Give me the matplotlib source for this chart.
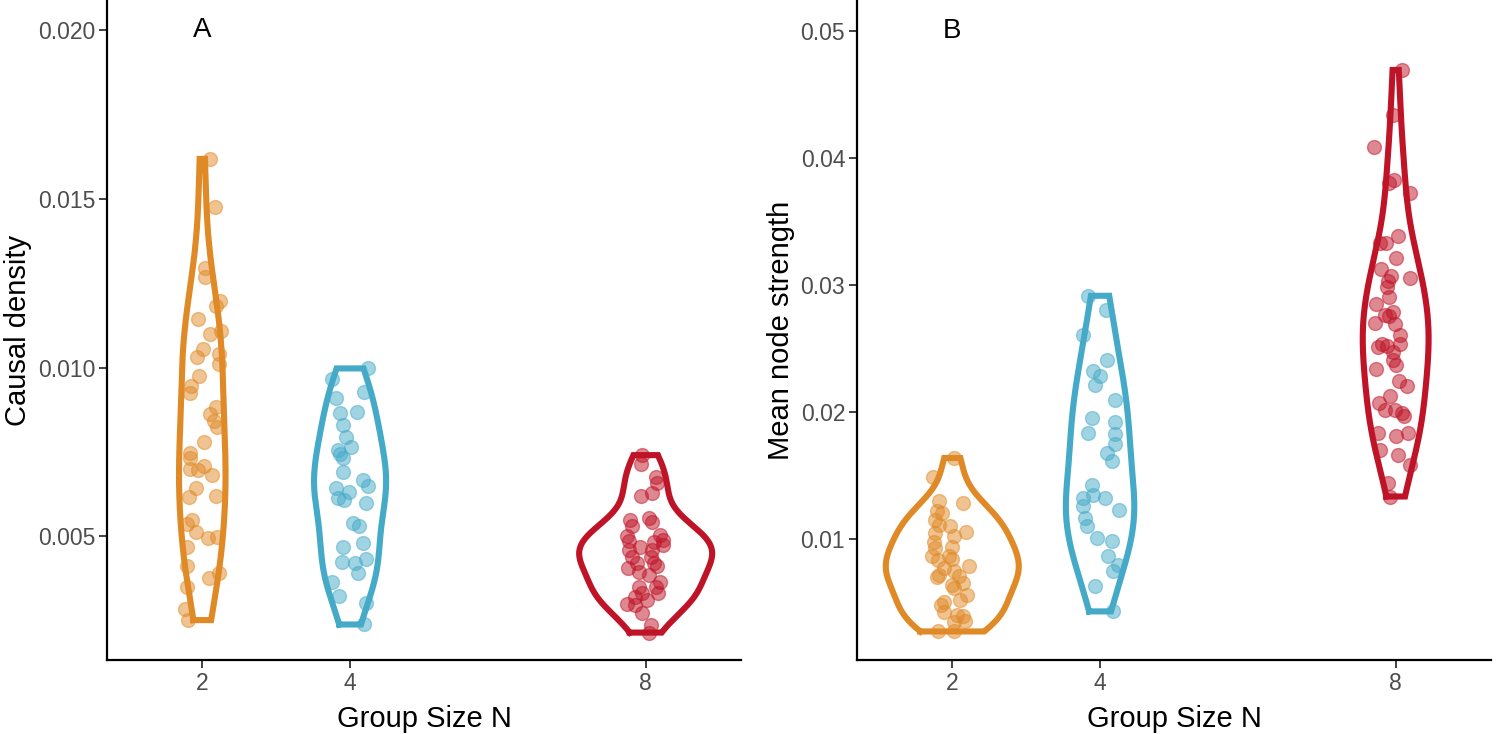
import numpy as np
import matplotlib
matplotlib.use("Agg")
import matplotlib.pyplot as plt

plt.rcParams["font.family"] = ["Liberation Sans", "DejaVu Sans"]

group_sizes = [2, 4, 8]
colors = ["#E08A27", "#45AAC8", "#BF1427"]

# Panel A: causal density (values x 1e-3), jitter offsets in x units
cd_n2 = [16.19, 14.75, 12.95, 12.70, 11.99, 11.84, 11.44, 11.00, 11.10, 10.55, 10.31,
         10.41, 10.11, 9.76, 9.47, 9.25, 8.84, 8.63, 8.43, 8.25, 7.79, 7.46, 7.31, 7.09,
         6.97, 6.99, 6.82, 6.44, 6.16, 6.20, 5.49, 5.37, 5.14, 4.94, 4.97, 4.69, 4.12,
         3.91, 3.76, 3.51, 2.84, 2.52]
cd_n2_jit = [0.10, 0.17, 0.04, 0.04, 0.24, 0.18, -0.06, 0.11, 0.26, 0.01, -0.07,
             0.23, 0.23, -0.04, -0.15, -0.16, 0.18, 0.10, 0.16, 0.20, 0.03, -0.16, -0.17, 0.03,
             -0.06, -0.17, 0.13, -0.09, -0.18, 0.18, -0.14, -0.21, -0.08, 0.08, 0.20, -0.21, -0.20,
             0.23, 0.09, -0.21, -0.23, -0.19]
cd_n4 = [9.98, 9.66, 9.27, 9.09, 8.65, 8.68, 8.30, 7.95, 7.64, 7.56, 7.44, 7.31, 6.92,
         6.67, 6.49, 6.44, 6.32, 6.13, 6.08, 6.00, 5.41, 5.32, 4.68, 4.81, 4.25, 4.20,
         4.32, 3.91, 3.66, 3.23, 3.02, 2.39]
cd_n4_jit = [0.24, -0.25, 0.19, -0.19, -0.13, 0.10, -0.09, -0.06, 0.01, -0.17, -0.14, -0.09, -0.09,
             0.18, 0.24, -0.19, -0.01, -0.16, -0.08, 0.21, 0.04, 0.12, -0.10, 0.17, -0.11, 0.06,
             0.21, 0.11, -0.25, -0.15, 0.21, 0.19]
cd_n8 = [7.41, 7.15, 6.75, 6.59, 6.20, 6.28, 5.49, 5.31, 5.54, 5.44, 5.01, 4.87, 5.04,
         4.89, 4.84, 4.68, 4.60, 4.60, 4.75, 4.40, 4.40, 4.20, 4.12, 4.20, 4.07, 3.95,
         3.86, 3.66, 3.51, 3.51, 3.31, 3.31, 3.21, 3.11, 2.99, 2.96, 2.74, 2.37, 2.15]
cd_n8_jit = [-0.05, -0.06, 0.14, 0.15, -0.06, 0.09, -0.21, -0.19, 0.05, 0.09, -0.25, -0.23, 0.20,
             0.23, 0.11, -0.08, -0.22, 0.09, 0.24, -0.19, 0.07, 0.11, 0.15, -0.12, -0.24, -0.09,
             0.04, 0.20, 0.14, -0.09, -0.05, 0.17, -0.14, 0.02, -0.25, -0.15, -0.05, 0.07, 0.05]

# Panel B: mean node strength (values x 1e-3)
ns_n2 = [16.38, 14.88, 13.02, 12.83, 12.17, 12.05, 11.52, 11.13, 11.05, 10.52, 10.47,
         10.20, 9.73, 9.37, 9.29, 8.69, 8.69, 8.43, 8.37, 7.90, 7.72, 7.45, 7.19, 7.01,
         7.11, 6.40, 6.54, 6.14, 5.61, 5.22, 5.01, 4.83, 4.22, 4.04, 3.91, 3.43, 3.51,
         2.72, 2.72]
ns_n2_jit = [0.03, -0.26, -0.18, 0.15, -0.21, -0.14, -0.24, -0.18, -0.03, 0.18, -0.23,
             0.02, -0.25, -0.01, -0.23, -0.27, -0.04, 0.00, -0.19, 0.23, -0.11, 0.03, -0.18, -0.21,
             0.09, 0.00, 0.14, 0.02, 0.20, 0.11, -0.11, -0.15, -0.11, 0.07, 0.15, 0.03, 0.17,
             -0.19, 0.02]
ns_n4 = [29.16, 28.06, 26.09, 24.12, 23.20, 22.86, 22.15, 20.97, 19.53, 19.18, 18.39,
         18.29, 17.50, 16.77, 16.11, 14.28, 13.49, 13.23, 12.57, 13.23, 12.25, 11.65,
         10.99, 10.08, 9.81, 8.69, 7.98, 7.45, 6.32, 4.30]
ns_n4_jit = [-0.16, 0.08, -0.23, 0.09, -0.10, 0.00, -0.07, 0.20, -0.11, 0.20, -0.16,
             0.20, 0.20, 0.09, 0.16, -0.11, -0.09, -0.23, -0.23, 0.07, 0.25, -0.20,
             -0.18, -0.04, 0.16, 0.11, 0.24, 0.18, -0.07, 0.18]
ns_n8 = [46.95, 43.41, 40.87, 38.03, 38.29, 37.24, 33.31, 33.35, 33.88, 32.13, 31.26,
         30.68, 30.55, 30.36, 29.89, 29.06, 28.53, 27.92, 27.61, 27.53, 27.01, 26.95,
         26.09, 25.38, 25.12, 25.22, 25.38, 24.77, 24.12, 23.72, 23.39, 22.41, 22.07,
         21.23, 20.71, 20.18, 20.18, 19.92, 19.73, 18.35, 18.08, 18.35, 17.03, 16.64,
         15.85, 14.41, 13.35]
ns_n8_jit = [0.08, -0.03, -0.29, -0.09, -0.02, 0.19, -0.21, -0.13, 0.03, 0.00, -0.20,
             -0.06, 0.19, -0.10, -0.12, -0.09, -0.26, -0.03, -0.15, -0.09, -0.28, -0.01,
             0.06, -0.19, -0.24, -0.12, 0.06, -0.03, -0.03, 0.00, -0.26, 0.05, 0.15,
             -0.07, -0.22, -0.15, -0.01, 0.09, 0.11, -0.24, 0.00, 0.17, -0.21, 0.03,
             0.19, -0.10, -0.07]


def kde_trimmed(vals, n=512):
    # gaussian kde with R's bw.nrd0, trimmed to the data range (like geom_violin)
    v = np.asarray(vals)
    q75, q25 = np.percentile(v, [75, 25])
    bw = 0.9 * min(v.std(ddof=1), (q75 - q25) / 1.34) * len(v) ** -0.2
    grid = np.linspace(v.min(), v.max(), n)
    dens = np.exp(-0.5 * ((grid[:, None] - v[None, :]) / bw) ** 2).sum(axis=1)
    dens /= len(v) * bw * np.sqrt(2 * np.pi)
    return grid, dens


def draw_panel(ax, groups, jitters, ylim, yticks, ylabels, ylabel, tag):
    kdes = [kde_trimmed(np.array(g) * 1e-3) for g in groups]
    dmax = max(d.max() for _, d in kdes)
    half = 0.9
    for x0, (grid, dens), col in zip(group_sizes, kdes, colors):
        w = dens / dmax * half
        xs = np.concatenate([x0 - w, (x0 + w)[::-1], [x0 - w[0]]])
        ys = np.concatenate([grid, grid[::-1], [grid[0]]])
        ax.plot(xs, ys, color=col, lw=4.4, solid_joinstyle="miter", zorder=2)
    for x0, g, j, col in zip(group_sizes, groups, jitters, colors):
        ax.scatter(x0 + np.array(j), np.array(g) * 1e-3, s=100, color=col, alpha=0.5,
                   edgecolors=col, linewidths=1.0, zorder=3)

    ax.set_xlim(0.71, 9.29)
    ax.set_ylim(*ylim)
    ax.set_xticks(group_sizes)
    ax.set_xticklabels([str(g) for g in group_sizes])
    ax.set_yticks(yticks)
    ax.set_yticklabels(ylabels)
    ax.tick_params(axis="both", labelsize=16.5, labelcolor="#4D4D4D", color="#333333",
                   length=6, width=1.3, pad=2.5)
    for s in ["top", "right"]:
        ax.spines[s].set_visible(False)
    for s in ["left", "bottom"]:
        ax.spines[s].set_linewidth(1.6)
    ax.set_xlabel("Group Size N", fontsize=21, labelpad=7)
    ax.set_ylabel(ylabel, fontsize=21, labelpad=4)
    ax.text(2, yticks[-1], tag, fontsize=20, ha="center", va="center")


fig = plt.figure(figsize=(15, 7.34), dpi=100)
ax_a = fig.add_axes([0.0713, 0.1008, 0.4227, 0.8992])
ax_b = fig.add_axes([0.5713, 0.1008, 0.4227, 0.8992])

draw_panel(ax_a, [cd_n2, cd_n4, cd_n8], [cd_n2_jit, cd_n4_jit, cd_n8_jit],
           (0.001337, 0.0209), [0.005, 0.010, 0.015, 0.020],
           ["0.005", "0.010", "0.015", "0.020"], "Causal density", "A")
draw_panel(ax_b, [ns_n2, ns_n4, ns_n8], [ns_n2_jit, ns_n4_jit, ns_n8_jit],
           (0.00047, 0.05246), [0.01, 0.02, 0.03, 0.04, 0.05],
           ["0.01", "0.02", "0.03", "0.04", "0.05"], "Mean node strength", "B")

fig.savefig("out.png", dpi=100)
